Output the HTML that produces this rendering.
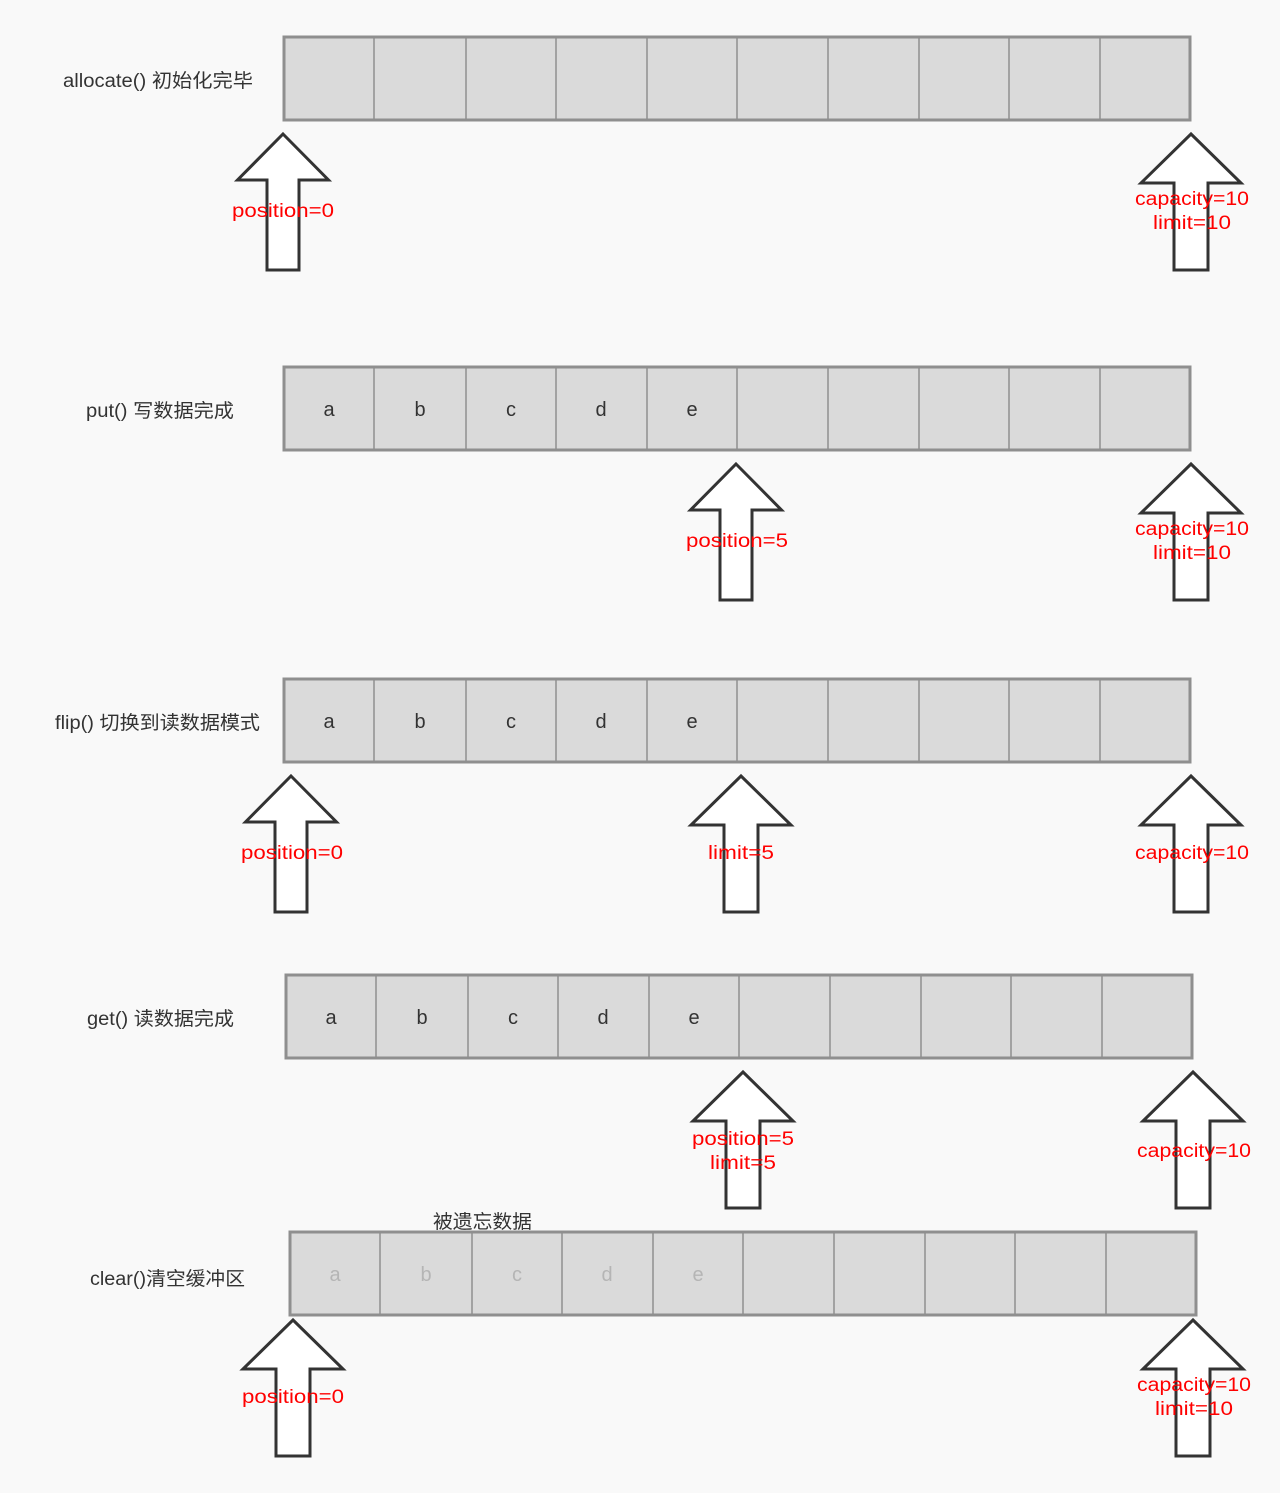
<!DOCTYPE html>
<html><head><meta charset="utf-8"><style>
html,body{margin:0;padding:0;background:#f9f9f9;}
svg{display:block;}
text{font-family:"Liberation Sans","Noto Sans CJK SC",sans-serif;}
</style></head><body>
<svg width="1280" height="1493" viewBox="0 0 1280 1493" xmlns="http://www.w3.org/2000/svg">
<rect width="1280" height="1493" fill="#f9f9f9"/>
<defs>
<g id="cells">
<rect x="0" y="0" width="906" height="83" fill="#dadada" stroke="#8f8f8f" stroke-width="3"/>
<g stroke="#8f8f8f" stroke-width="1.5">
<line x1="90" y1="0" x2="90" y2="83"/><line x1="182" y1="0" x2="182" y2="83"/>
<line x1="272" y1="0" x2="272" y2="83"/><line x1="363" y1="0" x2="363" y2="83"/>
<line x1="453" y1="0" x2="453" y2="83"/><line x1="544" y1="0" x2="544" y2="83"/>
<line x1="635" y1="0" x2="635" y2="83"/><line x1="725" y1="0" x2="725" y2="83"/>
<line x1="816" y1="0" x2="816" y2="83"/>
</g>
</g>
<polygon id="arr" points="0,0 45.5,46 16,46 16,136 -16,136 -16,46 -45.5,46" fill="#fff" stroke="#333" stroke-width="3"/>
<polygon id="arrB" points="0,0 50,49 17,49 17,136 -17,136 -17,49 -50,49" fill="#fff" stroke="#333" stroke-width="3"/>
<g id="abcde">
<text x="45" y="49">a</text><text x="136" y="49">b</text><text x="227" y="49">c</text><text x="317" y="49">d</text><text x="408" y="49">e</text>
</g>
</defs>

<g font-size="19" fill="#333">
<text x="63" y="87" textLength="190" lengthAdjust="spacingAndGlyphs">allocate() 初始化完毕</text>
<text x="86" y="417" textLength="148" lengthAdjust="spacingAndGlyphs">put() 写数据完成</text>
<text x="55" y="729" textLength="205" lengthAdjust="spacingAndGlyphs">flip() 切换到读数据模式</text>
<text x="87" y="1025" textLength="147" lengthAdjust="spacingAndGlyphs">get() 读数据完成</text>
<text x="90" y="1285" textLength="155" lengthAdjust="spacingAndGlyphs">clear()清空缓冲区</text>
<text x="433" y="1228" textLength="99" lengthAdjust="spacingAndGlyphs">被遗忘数据</text>
</g>

<use href="#cells" x="284" y="37"/>
<use href="#cells" x="284" y="367"/>
<use href="#cells" x="284" y="679"/>
<use href="#cells" x="286" y="975"/>
<use href="#cells" x="290" y="1232"/>

<g font-size="20" fill="#333" text-anchor="middle">
<use href="#abcde" x="284" y="367"/>
<use href="#abcde" x="284" y="679"/>
<use href="#abcde" x="286" y="975"/>
</g>
<g font-size="20" fill="#b5b5b5" text-anchor="middle">
<use href="#abcde" x="290" y="1232"/>
</g>

<use href="#arr" x="283" y="134"/><use href="#arrB" x="1191" y="134"/>
<use href="#arr" x="736" y="464"/><use href="#arrB" x="1191" y="464"/>
<use href="#arr" x="291" y="776"/><use href="#arrB" x="741" y="776"/><use href="#arrB" x="1191" y="776"/>
<use href="#arrB" x="743" y="1072"/><use href="#arrB" x="1193" y="1072"/>
<use href="#arrB" x="293" y="1320"/><use href="#arrB" x="1193" y="1320"/>

<g font-size="19" fill="#ff0000">
<text x="232" y="217" textLength="102" lengthAdjust="spacingAndGlyphs">position=0</text>
<text x="1135" y="205" textLength="114" lengthAdjust="spacingAndGlyphs">capacity=10</text><text x="1153" y="229" textLength="78" lengthAdjust="spacingAndGlyphs">limit=10</text>
<text x="686" y="547" textLength="102" lengthAdjust="spacingAndGlyphs">position=5</text>
<text x="1135" y="535" textLength="114" lengthAdjust="spacingAndGlyphs">capacity=10</text><text x="1153" y="559" textLength="78" lengthAdjust="spacingAndGlyphs">limit=10</text>
<text x="241" y="859" textLength="102" lengthAdjust="spacingAndGlyphs">position=0</text>
<text x="708" y="859" textLength="66" lengthAdjust="spacingAndGlyphs">limit=5</text>
<text x="1135" y="859" textLength="114" lengthAdjust="spacingAndGlyphs">capacity=10</text>
<text x="692" y="1145" textLength="102" lengthAdjust="spacingAndGlyphs">position=5</text><text x="710" y="1169" textLength="66" lengthAdjust="spacingAndGlyphs">limit=5</text>
<text x="1137" y="1157" textLength="114" lengthAdjust="spacingAndGlyphs">capacity=10</text>
<text x="242" y="1403" textLength="102" lengthAdjust="spacingAndGlyphs">position=0</text>
<text x="1137" y="1391" textLength="114" lengthAdjust="spacingAndGlyphs">capacity=10</text><text x="1155" y="1415" textLength="78" lengthAdjust="spacingAndGlyphs">limit=10</text>
</g>
</svg>
</body></html>
